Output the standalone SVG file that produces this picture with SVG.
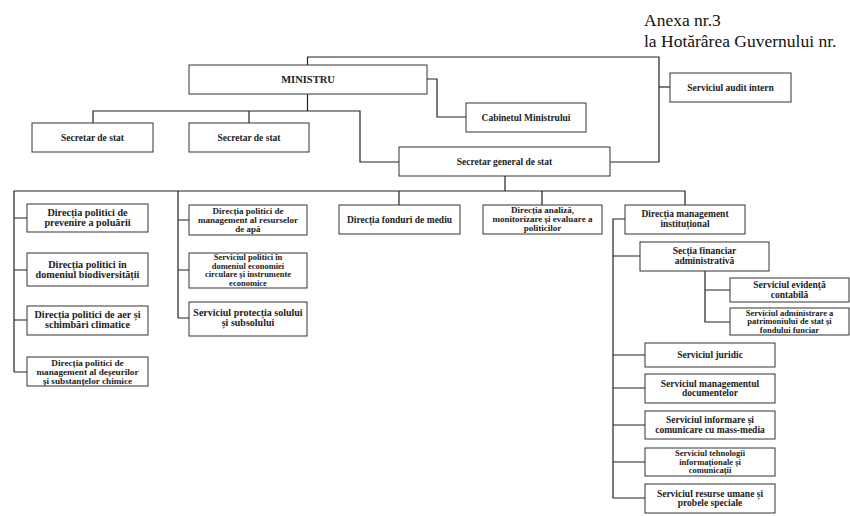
<svg xmlns="http://www.w3.org/2000/svg" width="850" height="516" viewBox="0 0 850 516">
<style>
.b{fill:#fff;stroke:#333;stroke-width:1}
.t{font-family:'Liberation Serif','DejaVu Serif',serif;font-weight:bold;font-size:9.5px;fill:#222;text-anchor:middle}
.lc{font-size:10.2px}
.t3{font-size:9px}
.t4{font-size:8.5px}
.h{font-family:'Liberation Serif','DejaVu Serif',serif;font-size:17.5px;fill:#111}
.c{fill:none;stroke:#222;stroke-width:1.2}
</style>
<rect width="850" height="516" fill="#fff"/>
<text class="h" x="644" y="26">Anexa nr.3</text>
<text class="h" x="644" y="46.5">la Hotărârea Guvernului nr.</text>
<g id="connectors">
<path class="c" d="M307.5,65V57H659V162H610"/>
<path class="c" d="M659,87H670"/>
<path class="c" d="M427,79H437V117H466"/>
<path class="c" d="M307.5,94V111"/>
<path class="c" d="M93,123V111H360V162H399"/>
<path class="c" d="M249,111V123"/>
<path class="c" d="M505,176V191"/>
<path class="c" d="M14,372V191H685V205"/>
<path class="c" d="M14,218H27M14,270H27M14,320H27M14,372H27"/>
<path class="c" d="M178,191V318M178,220H189M178,270H189M178,318H189"/>
<path class="c" d="M399,191V205M542,191V205"/>
<path class="c" d="M625,219H613V498H645M613,256H640M613,355H645M613,388H645M613,425H645M613,462H645"/>
<path class="c" d="M705,271V322H730M705,290H730"/>
</g>
<g id="ministru"><rect class="b" x="189" y="65" width="238" height="29"/><text class="t" x="308" y="83" style="font-size:10.5px">MINISTRU</text></g>
<g id="cabinet"><rect class="b" x="466" y="103" width="120" height="29"/><text class="t" x="526" y="120.5">Cabinetul Ministrului</text></g>
<g id="audit"><rect class="b" x="670" y="73" width="121" height="29"/><text class="t" x="730.5" y="90.5">Serviciul audit intern</text></g>
<g id="ss1"><rect class="b" x="32" y="123" width="121" height="29"/><text class="t" x="92.5" y="140.5">Secretar de stat</text></g>
<g id="ss2"><rect class="b" x="189" y="123" width="120" height="29"/><text class="t" x="249" y="140.5">Secretar de stat</text></g>
<g id="sg"><rect class="b" x="399" y="147" width="211" height="29"/><text class="t" x="504.5" y="164.5">Secretar general de stat</text></g>
<g id="l1"><rect class="b" x="27" y="204" width="121" height="28"/><text class="t lc" x="87.5" y="215.5">Direcția politici de<tspan x="87.5" dy="10.4">prevenire a poluării</tspan></text></g>
<g id="l2"><rect class="b" x="27" y="253" width="121" height="33"/><text class="t lc" x="87.5" y="267.5">Direcția politici în<tspan x="87.5" dy="10.4">domeniul biodiversității</tspan></text></g>
<g id="l3"><rect class="b" x="27" y="306" width="121" height="29"/><text class="t lc" x="87.5" y="318">Direcția politici de aer și<tspan x="87.5" dy="10.4">schimbări climatice</tspan></text></g>
<g id="l4"><rect class="b" x="27" y="357" width="121" height="29"/><text class="t t3" x="87.5" y="365.5" style="font-size:9.2px">Direcția politici de<tspan x="87.5" dy="9.2">management al deșeurilor</tspan><tspan x="87.5" dy="9.2">și substanțelor chimice</tspan></text></g>
<g id="m1"><rect class="b" x="189" y="205" width="118" height="30"/><text class="t t3" x="248" y="213.5">Direcția politici de<tspan x="248" dy="9.2">management al resurselor</tspan><tspan x="248" dy="9.2">de apă</tspan></text></g>
<g id="m2"><rect class="b" x="189" y="253" width="118" height="35"/><text class="t t4" x="248" y="260">Serviciul politici în<tspan x="248" dy="8.7">domeniul economiei</tspan><tspan x="248" dy="8.7">circulare și instrumente</tspan><tspan x="248" dy="8.7">economice</tspan></text></g>
<g id="m3"><rect class="b" x="189" y="302" width="118" height="34"/><text class="t" x="248" y="316" style="font-size:10px">Serviciul protecția solului<tspan x="248" dy="10.2">și subsolului</tspan></text></g>
<g id="fonduri"><rect class="b" x="339" y="205" width="121" height="29"/><text class="t" x="399.5" y="222.5">Direcția fonduri de mediu</text></g>
<g id="analiza"><rect class="b" x="483" y="205" width="119" height="29"/><text class="t t3" x="542.5" y="213">Direcția analiză,<tspan x="542.5" dy="9.2">monitorizare și evaluare a</tspan><tspan x="542.5" dy="9.2">politicilor</tspan></text></g>
<g id="mgmt"><rect class="b" x="625" y="205" width="120" height="29"/><text class="t" x="685" y="217">Direcția management<tspan x="685" dy="9.8">instituțional</tspan></text></g>
<g id="financiar"><rect class="b" x="640" y="242" width="129" height="29"/><text class="t" x="704.5" y="254">Secția financiar<tspan x="704.5" dy="9.8">administrativă</tspan></text></g>
<g id="evidenta"><rect class="b" x="730" y="278" width="119" height="24"/><text class="t" x="789.5" y="288">Serviciul evidență<tspan x="789.5" dy="9.8">contabilă</tspan></text></g>
<g id="patrimoniu"><rect class="b" x="730" y="308" width="119" height="27"/><text class="t t4" x="789.5" y="315.5">Serviciul administrare a<tspan x="789.5" dy="8.7">patrimoniului de stat și</tspan><tspan x="789.5" dy="8.7">fondului funciar</tspan></text></g>
<g id="juridic"><rect class="b" x="645" y="343" width="130" height="24"/><text class="t" x="710" y="358">Serviciul juridic</text></g>
<g id="documente"><rect class="b" x="645" y="374" width="130" height="29"/><text class="t" x="710" y="386.5">Serviciul managementul<tspan x="710" dy="9.8">documentelor</tspan></text></g>
<g id="informare"><rect class="b" x="645" y="411" width="130" height="28"/><text class="t" x="710" y="423">Serviciul informare și<tspan x="710" dy="9.8">comunicare cu mass-media</tspan></text></g>
<g id="tehnologii"><rect class="b" x="645" y="448" width="130" height="28"/><text class="t t4" x="710" y="456">Serviciul tehnologii<tspan x="710" dy="8.7">informaționale și</tspan><tspan x="710" dy="8.7">comunicații</tspan></text></g>
<g id="resurse"><rect class="b" x="645" y="484" width="130" height="29"/><text class="t" x="710" y="496.5">Serviciul resurse umane și<tspan x="710" dy="9.8">probele speciale</tspan></text></g>
</svg>
